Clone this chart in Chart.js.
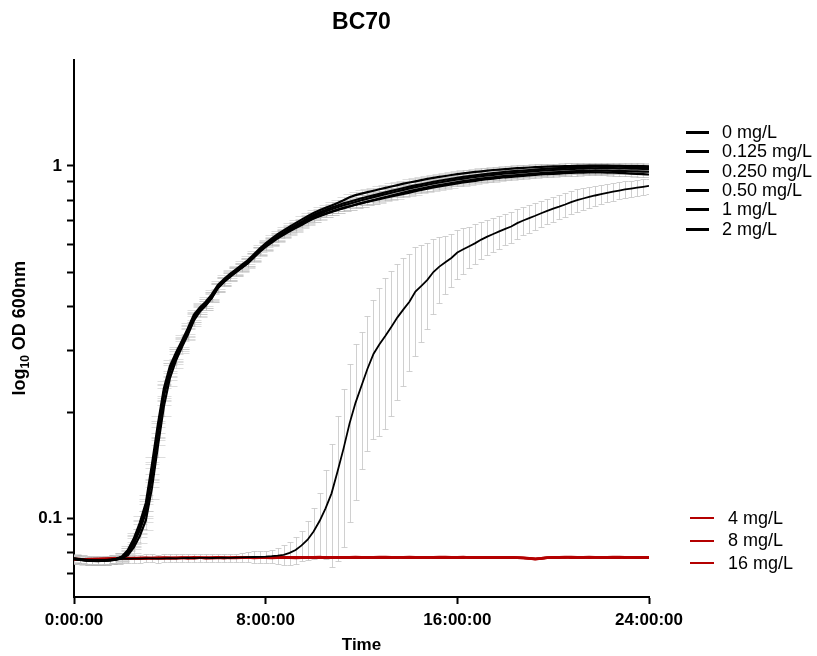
<!DOCTYPE html>
<html>
<head>
<meta charset="utf-8">
<script src="https://cdn.jsdelivr.net/npm/chart.js@4.4.1/dist/chart.umd.min.js"></script>
<style>
  html, body { margin: 0; padding: 0; background: #fff; }
  #wrap { position: relative; width: 817px; height: 656px; }
  #c { position: absolute; left: 0; top: 0; }
  .leg { position: absolute; font-family: 'Liberation Sans', Arial, sans-serif; font-size: 18px; color: #000; }
  .leg .row { display: flex; align-items: center; white-space: nowrap; }
  .leg .sw { flex: none; }
</style>
</head>
<body>
<div id="wrap">
  <canvas id="c" width="817" height="656"></canvas>
  <div class="leg" id="legTop" style="left:686px; top:123px;"></div>
  <div class="leg" id="legBot" style="left:690px; top:507px;"></div>
</div>
<script>
// BC70 growth curves, log OD600 vs time, mean ± SD. Reads every 15 min.

const hours = [
  0, 0.25, 0.5, 0.75, 1, 1.25, 1.5, 1.75,
  2, 2.25, 2.5, 2.75, 3, 3.25, 3.5, 3.75,
  4, 4.25, 4.5, 4.75, 5, 5.25, 5.5, 5.75,
  6, 6.25, 6.5, 6.75, 7, 7.25, 7.5, 7.75,
  8, 8.25, 8.5, 8.75, 9, 9.25, 9.5, 9.75,
  10, 10.25, 10.5, 10.75, 11, 11.25, 11.5, 11.75,
  12, 12.25, 12.5, 12.75, 13, 13.25, 13.5, 13.75,
  14, 14.25, 14.5, 14.75, 15, 15.25, 15.5, 15.75,
  16, 16.25, 16.5, 16.75, 17, 17.25, 17.5, 17.75,
  18, 18.25, 18.5, 18.75, 19, 19.25, 19.5, 19.75,
  20, 20.25, 20.5, 20.75, 21, 21.25, 21.5, 21.75,
  22, 22.25, 22.5, 22.75, 23, 23.25, 23.5, 23.75,
  24];

const od0 = [
  0.0772, 0.0768, 0.0764, 0.0762, 0.0761, 0.0762, 0.0764, 0.0768,
  0.0777, 0.0805, 0.0862, 0.0945, 0.1065, 0.1350, 0.1770, 0.2270,
  0.2640, 0.2900, 0.3140, 0.3400, 0.3720, 0.3920, 0.4070, 0.4270,
  0.4540, 0.4720, 0.4880, 0.5030, 0.5180, 0.5330, 0.5540, 0.5760,
  0.5960, 0.6140, 0.6320, 0.6480, 0.6630, 0.6790, 0.6940, 0.7110,
  0.7260, 0.7390, 0.7500, 0.7620, 0.7720, 0.7830, 0.7910, 0.8000,
  0.8090, 0.8170, 0.8250, 0.8330, 0.8410, 0.8490, 0.8570, 0.8650,
  0.8730, 0.8800, 0.8870, 0.8940, 0.9010, 0.9070, 0.9130, 0.9190,
  0.9250, 0.9300, 0.9350, 0.9400, 0.9450, 0.9490, 0.9530, 0.9570,
  0.9610, 0.9640, 0.9670, 0.9700, 0.9730, 0.9760, 0.9790, 0.9810,
  0.9830, 0.9850, 0.9870, 0.9890, 0.9910, 0.9920, 0.9930, 0.9940,
  0.9950, 0.9950, 0.9950, 0.9940, 0.9930, 0.9920, 0.9910, 0.9900,
  0.9890];

const od0125 = [
  0.0768, 0.0764, 0.0761, 0.0759, 0.0758, 0.0760, 0.0763, 0.0769,
  0.0782, 0.0815, 0.0880, 0.0975, 0.1110, 0.1420, 0.1850, 0.2340,
  0.2700, 0.2950, 0.3190, 0.3460, 0.3780, 0.3970, 0.4120, 0.4320,
  0.4590, 0.4770, 0.4930, 0.5080, 0.5240, 0.5400, 0.5610, 0.5830,
  0.6030, 0.6220, 0.6400, 0.6560, 0.6720, 0.6880, 0.7040, 0.7200,
  0.7350, 0.7480, 0.7600, 0.7720, 0.7850, 0.7990, 0.8150, 0.8260,
  0.8340, 0.8420, 0.8500, 0.8580, 0.8660, 0.8740, 0.8820, 0.8900,
  0.8970, 0.9040, 0.9110, 0.9180, 0.9240, 0.9300, 0.9360, 0.9420,
  0.9470, 0.9520, 0.9570, 0.9610, 0.9650, 0.9690, 0.9730, 0.9760,
  0.9790, 0.9820, 0.9850, 0.9870, 0.9890, 0.9910, 0.9930, 0.9950,
  0.9960, 0.9970, 0.9980, 0.9990, 1.0000, 1.0000, 1.0010, 1.0010,
  1.0010, 1.0010, 1.0000, 1.0000, 0.9990, 0.9990, 0.9980, 0.9980,
  0.9970];

const od025 = [
  0.0770, 0.0765, 0.0762, 0.0760, 0.0759, 0.0760, 0.0762, 0.0766,
  0.0774, 0.0798, 0.0850, 0.0928, 0.1040, 0.1310, 0.1720, 0.2220,
  0.2600, 0.2860, 0.3100, 0.3360, 0.3680, 0.3880, 0.4030, 0.4230,
  0.4500, 0.4680, 0.4840, 0.4990, 0.5140, 0.5290, 0.5490, 0.5700,
  0.5890, 0.6060, 0.6230, 0.6380, 0.6520, 0.6660, 0.6800, 0.6950,
  0.7090, 0.7200, 0.7300, 0.7400, 0.7500, 0.7590, 0.7670, 0.7760,
  0.7840, 0.7920, 0.8000, 0.8080, 0.8160, 0.8240, 0.8320, 0.8400,
  0.8480, 0.8550, 0.8620, 0.8690, 0.8760, 0.8820, 0.8880, 0.8940,
  0.9000, 0.9050, 0.9100, 0.9150, 0.9200, 0.9240, 0.9280, 0.9320,
  0.9360, 0.9390, 0.9420, 0.9450, 0.9480, 0.9510, 0.9540, 0.9560,
  0.9580, 0.9600, 0.9620, 0.9640, 0.9660, 0.9670, 0.9680, 0.9690,
  0.9690, 0.9690, 0.9680, 0.9670, 0.9660, 0.9650, 0.9640, 0.9630,
  0.9620];

const od05 = [
  0.0771, 0.0767, 0.0764, 0.0762, 0.0761, 0.0761, 0.0762, 0.0765,
  0.0771, 0.0788, 0.0830, 0.0895, 0.0990, 0.1220, 0.1600, 0.2080,
  0.2500, 0.2800, 0.3060, 0.3320, 0.3640, 0.3860, 0.4020, 0.4220,
  0.4500, 0.4690, 0.4850, 0.5000, 0.5150, 0.5300, 0.5510, 0.5730,
  0.5930, 0.6110, 0.6290, 0.6440, 0.6590, 0.6740, 0.6890, 0.7050,
  0.7190, 0.7310, 0.7420, 0.7530, 0.7630, 0.7730, 0.7810, 0.7900,
  0.7990, 0.8070, 0.8150, 0.8230, 0.8310, 0.8390, 0.8470, 0.8550,
  0.8630, 0.8700, 0.8770, 0.8840, 0.8910, 0.8970, 0.9030, 0.9090,
  0.9150, 0.9200, 0.9250, 0.9300, 0.9350, 0.9390, 0.9430, 0.9470,
  0.9510, 0.9540, 0.9570, 0.9600, 0.9630, 0.9660, 0.9690, 0.9710,
  0.9730, 0.9750, 0.9770, 0.9790, 0.9810, 0.9820, 0.9830, 0.9840,
  0.9850, 0.9850, 0.9850, 0.9840, 0.9830, 0.9820, 0.9810, 0.9800,
  0.9790];

const od1 = [
  0.0769, 0.0765, 0.0762, 0.0760, 0.0759, 0.0761, 0.0764, 0.0769,
  0.0779, 0.0808, 0.0868, 0.0952, 0.1075, 0.1365, 0.1790, 0.2290,
  0.2650, 0.2910, 0.3150, 0.3410, 0.3730, 0.3930, 0.4080, 0.4280,
  0.4550, 0.4730, 0.4890, 0.5040, 0.5190, 0.5330, 0.5530, 0.5740,
  0.5930, 0.6100, 0.6270, 0.6420, 0.6560, 0.6700, 0.6840, 0.6980,
  0.7110, 0.7220, 0.7320, 0.7420, 0.7510, 0.7600, 0.7680, 0.7760,
  0.7840, 0.7910, 0.7980, 0.8050, 0.8120, 0.8190, 0.8260, 0.8330,
  0.8400, 0.8470, 0.8540, 0.8610, 0.8680, 0.8740, 0.8800, 0.8860,
  0.8920, 0.8970, 0.9020, 0.9070, 0.9120, 0.9160, 0.9200, 0.9240,
  0.9280, 0.9310, 0.9340, 0.9370, 0.9400, 0.9430, 0.9450, 0.9470,
  0.9490, 0.9510, 0.9530, 0.9550, 0.9560, 0.9570, 0.9580, 0.9580,
  0.9580, 0.9570, 0.9560, 0.9550, 0.9530, 0.9510, 0.9490, 0.9470,
  0.9450];

const od2 = [
  0.0770, 0.0766, 0.0763, 0.0762, 0.0763, 0.0764, 0.0766, 0.0768,
  0.0769, 0.0770, 0.0771, 0.0771, 0.0772, 0.0772, 0.0771, 0.0772,
  0.0773, 0.0772, 0.0773, 0.0774, 0.0773, 0.0774, 0.0775, 0.0774,
  0.0775, 0.0776, 0.0775, 0.0776, 0.0777, 0.0778, 0.0779, 0.0780,
  0.0781, 0.0783, 0.0786, 0.0790, 0.0800, 0.0815, 0.0840, 0.0872,
  0.0920, 0.0985, 0.1070, 0.1180, 0.1360, 0.1580, 0.1860, 0.2130,
  0.2380, 0.2660, 0.2930, 0.3120, 0.3300, 0.3500, 0.3720, 0.3920,
  0.4120, 0.4400, 0.4570, 0.4750, 0.5000, 0.5180, 0.5330, 0.5480,
  0.5680, 0.5800, 0.5920, 0.6040, 0.6180, 0.6300, 0.6410, 0.6520,
  0.6630, 0.6730, 0.6880, 0.7000, 0.7110, 0.7220, 0.7340, 0.7450,
  0.7560, 0.7660, 0.7770, 0.7890, 0.7990, 0.8080, 0.8160, 0.8240,
  0.8310, 0.8380, 0.8450, 0.8510, 0.8570, 0.8620, 0.8670, 0.8720,
  0.8770];

const od4 = [
  0.0768, 0.0766, 0.0765, 0.0766, 0.0767, 0.0768, 0.0769, 0.0770,
  0.0771, 0.0772, 0.0771, 0.0773, 0.0772, 0.0774, 0.0773, 0.0772,
  0.0774, 0.0773, 0.0775, 0.0772, 0.0774, 0.0776, 0.0773, 0.0774,
  0.0775, 0.0773, 0.0776, 0.0774, 0.0775, 0.0777, 0.0774, 0.0775,
  0.0776, 0.0774, 0.0775, 0.0777, 0.0776, 0.0774, 0.0776, 0.0775,
  0.0777, 0.0775, 0.0776, 0.0778, 0.0775, 0.0776, 0.0777, 0.0775,
  0.0776, 0.0778, 0.0776, 0.0775, 0.0777, 0.0776, 0.0778, 0.0776,
  0.0775, 0.0777, 0.0776, 0.0778, 0.0776, 0.0777, 0.0775, 0.0776,
  0.0777, 0.0776, 0.0778, 0.0776, 0.0775, 0.0777, 0.0776, 0.0777,
  0.0776, 0.0777, 0.0776, 0.0775, 0.0773, 0.0770, 0.0772, 0.0775,
  0.0777, 0.0776, 0.0778, 0.0776, 0.0777, 0.0775, 0.0777, 0.0778,
  0.0776, 0.0777, 0.0775, 0.0776, 0.0778, 0.0777, 0.0776, 0.0777,
  0.0776];

const od8 = [
  0.0767, 0.0765, 0.0766, 0.0767, 0.0768, 0.0769, 0.0770, 0.0771,
  0.0772, 0.0771, 0.0773, 0.0772, 0.0774, 0.0773, 0.0775, 0.0774,
  0.0773, 0.0775, 0.0774, 0.0776, 0.0773, 0.0775, 0.0776, 0.0774,
  0.0776, 0.0775, 0.0774, 0.0776, 0.0778, 0.0775, 0.0776, 0.0777,
  0.0775, 0.0777, 0.0776, 0.0775, 0.0778, 0.0777, 0.0775, 0.0777,
  0.0776, 0.0778, 0.0777, 0.0775, 0.0777, 0.0778, 0.0776, 0.0777,
  0.0778, 0.0776, 0.0777, 0.0779, 0.0777, 0.0776, 0.0778, 0.0777,
  0.0776, 0.0778, 0.0777, 0.0776, 0.0778, 0.0777, 0.0779, 0.0777,
  0.0776, 0.0778, 0.0777, 0.0776, 0.0778, 0.0776, 0.0777, 0.0778,
  0.0777, 0.0776, 0.0775, 0.0774, 0.0772, 0.0769, 0.0771, 0.0775,
  0.0776, 0.0778, 0.0777, 0.0779, 0.0777, 0.0778, 0.0776, 0.0777,
  0.0778, 0.0776, 0.0777, 0.0779, 0.0777, 0.0778, 0.0777, 0.0776,
  0.0777];

const od16 = [
  0.0770, 0.0768, 0.0767, 0.0768, 0.0769, 0.0770, 0.0771, 0.0772,
  0.0773, 0.0774, 0.0772, 0.0774, 0.0775, 0.0773, 0.0774, 0.0776,
  0.0775, 0.0774, 0.0776, 0.0775, 0.0777, 0.0775, 0.0774, 0.0776,
  0.0777, 0.0776, 0.0775, 0.0777, 0.0776, 0.0778, 0.0777, 0.0776,
  0.0778, 0.0776, 0.0777, 0.0776, 0.0778, 0.0777, 0.0778, 0.0776,
  0.0777, 0.0779, 0.0776, 0.0778, 0.0777, 0.0776, 0.0778, 0.0779,
  0.0777, 0.0778, 0.0776, 0.0778, 0.0779, 0.0777, 0.0776, 0.0778,
  0.0779, 0.0777, 0.0778, 0.0776, 0.0778, 0.0779, 0.0777, 0.0778,
  0.0777, 0.0779, 0.0776, 0.0778, 0.0777, 0.0778, 0.0777, 0.0778,
  0.0778, 0.0777, 0.0776, 0.0774, 0.0771, 0.0768, 0.0772, 0.0776,
  0.0778, 0.0777, 0.0779, 0.0777, 0.0776, 0.0778, 0.0779, 0.0777,
  0.0778, 0.0777, 0.0779, 0.0778, 0.0776, 0.0778, 0.0777, 0.0778,
  0.0778];

// SD: the five fast-growing wells share a similar spread; 2 mg/L has its own (much wider)
const sdFast = [
  0.002, 0.002, 0.002, 0.002, 0.002, 0.002, 0.002, 0.002,
  0.002, 0.002, 0.003, 0.004, 0.006, 0.008, 0.010, 0.012,
  0.012, 0.012, 0.012, 0.012, 0.012, 0.012, 0.012, 0.012,
  0.012, 0.012, 0.013, 0.013, 0.013, 0.014, 0.014, 0.014,
  0.015, 0.015, 0.015, 0.015, 0.015, 0.015, 0.015, 0.015,
  0.016, 0.016, 0.016, 0.016, 0.016, 0.016, 0.016, 0.016,
  0.018, 0.018, 0.018, 0.018, 0.018, 0.018, 0.018, 0.018,
  0.018, 0.018, 0.018, 0.018, 0.018, 0.018, 0.018, 0.018,
  0.018, 0.018, 0.018, 0.018, 0.018, 0.018, 0.018, 0.018,
  0.018, 0.018, 0.018, 0.018, 0.018, 0.018, 0.018, 0.018,
  0.018, 0.018, 0.018, 0.018, 0.018, 0.018, 0.018, 0.018,
  0.018, 0.018, 0.018, 0.018, 0.018, 0.018, 0.018, 0.018,
  0.018];

const sd2 = [
  0.002, 0.002, 0.002, 0.002, 0.002, 0.002, 0.002, 0.002,
  0.002, 0.002, 0.002, 0.002, 0.002, 0.002, 0.002, 0.002,
  0.002, 0.002, 0.002, 0.002, 0.002, 0.002, 0.002, 0.002,
  0.002, 0.002, 0.002, 0.002, 0.0025, 0.0025, 0.003, 0.003,
  0.003, 0.0035, 0.004, 0.005, 0.006, 0.007, 0.008, 0.011,
  0.015, 0.020, 0.030, 0.045, 0.060, 0.075, 0.088, 0.100,
  0.100, 0.110, 0.125, 0.140, 0.150, 0.155, 0.155, 0.155,
  0.150, 0.150, 0.140, 0.130, 0.120, 0.110, 0.100, 0.095,
  0.090, 0.085, 0.080, 0.078, 0.075, 0.072, 0.070, 0.070,
  0.068, 0.067, 0.066, 0.065, 0.065, 0.064, 0.063, 0.062,
  0.062, 0.061, 0.060, 0.060, 0.058, 0.056, 0.055, 0.054,
  0.052, 0.050, 0.049, 0.048, 0.047, 0.046, 0.045, 0.044,
  0.043];

const seriesLabels = ['0 mg/L', '0.125 mg/L', '0.250 mg/L', '0.50 mg/L', '1 mg/L', '2 mg/L', '4 mg/L', '8 mg/L', '16 mg/L'];
const seriesValues = [od0, od0125, od025, od05, od1, od2, od4, od8, od16];
const seriesSd = [sdFast, sdFast, sdFast, sdFast, sdFast, sd2, null, null, null];
const seriesColors = ['#000', '#000', '#000', '#000', '#000', '#000', '#b40000', '#b40000', '#b40000'];

const xTicks = [0, 8, 16, 24];
const yTicks = [0.07, 0.08, 0.09, 0.1, 0.2, 0.3, 0.4, 0.5, 0.6, 0.7, 0.8, 0.9, 1];
const yLabelled = new Set([0.1, 1]);

const FONT = "'Liberation Sans', Arial, sans-serif";

// grey mean ± SD bars, drawn under the lines
const errorBars = {
  id: 'errorBars',
  beforeDatasetsDraw(chart) {
    const { ctx, chartArea: a, scales: { x, y } } = chart;
    ctx.save();
    ctx.beginPath();
    ctx.rect(a.left, a.top, a.right - a.left, a.bottom - a.top);
    ctx.clip();
    chart.data.datasets.forEach((ds) => {
      if (!ds.sd) return;
      ctx.strokeStyle = ds.errColor;
      ctx.lineWidth = 1;
      const cap = ds.capWidth / 2;
      ds.data.forEach((p, i) => {
        const s = ds.sd[i];
        const px = Math.round(x.getPixelForValue(p.x)) + 0.5;
        const yt = Math.round(y.getPixelForValue(p.y + s)) + 0.5;
        const yb = Math.round(y.getPixelForValue(Math.max(p.y - s, 0.05))) + 0.5;
        ctx.beginPath();
        ctx.moveTo(px, yt); ctx.lineTo(px, yb);
        ctx.moveTo(px - cap, yt); ctx.lineTo(px + cap, yt);
        ctx.moveTo(px - cap, yb); ctx.lineTo(px + cap, yb);
        ctx.stroke();
      });
    });
    ctx.restore();
  },
};

// y title with a subscript 10, which the built-in axis title can't do
const yTitle = {
  id: 'yTitle',
  afterDraw(chart) {
    const { ctx, chartArea: a } = chart;
    const big = `bold 18px ${FONT}`, small = `bold 12px ${FONT}`;
    ctx.save();
    ctx.font = big;
    const w1 = ctx.measureText('log').width, w3 = ctx.measureText(' OD 600nm').width;
    ctx.font = small;
    const w2 = ctx.measureText('10').width;
    const total = w1 + w2 + w3;
    ctx.translate(25, (a.top + a.bottom) / 2);
    ctx.rotate(-Math.PI / 2);
    ctx.fillStyle = '#000';
    ctx.textBaseline = 'alphabetic';
    ctx.textAlign = 'left';
    let cx = -total / 2;
    ctx.font = big; ctx.fillText('log', cx, 0); cx += w1;
    ctx.font = small; ctx.fillText('10', cx, 4); cx += w2;
    ctx.font = big; ctx.fillText(' OD 600nm', cx, 0);
    ctx.restore();
  },
};

const datasets = seriesValues.map((vals, k) => ({
  label: seriesLabels[k],
  data: hours.map((h, i) => ({ x: h, y: vals[i] })),
  borderColor: seriesColors[k],
  backgroundColor: seriesColors[k],
  borderWidth: k < 5 ? 2.2 : k === 5 ? 1.8 : 2.6,
  sd: seriesSd[k],
  errColor: k === 5 ? 'rgba(200,200,200,0.85)' : 'rgba(180,180,180,0.45)',
  capWidth: k === 5 ? 6 : 14,
  order: k < 6 ? 0 : 1,
}));

new Chart(document.getElementById('c'), {
  type: 'line',
  data: { datasets },
  plugins: [errorBars, yTitle],
  options: {
    responsive: false, animation: false, events: [],
    layout: { padding: { top: 0, right: 168, bottom: 0, left: 0 } },
    elements: { point: { radius: 0 }, line: { tension: 0 } },
    plugins: {
      legend: { display: false },
      tooltip: { enabled: false },
      title: {
        display: true, text: 'BC70', fullSize: false, color: '#000',
        font: { family: FONT, size: 23, weight: 'bold' },
        padding: { top: 9, bottom: 23 },
      },
    },
    scales: {
      x: {
        type: 'linear', min: 0, max: 24,
        afterBuildTicks: (s) => { s.ticks = xTicks.map((v) => ({ value: v })); },
        ticks: { callback: (v) => `${v}:00:00`, color: '#000', font: { family: FONT, size: 17, weight: 'bold' }, padding: 6, maxRotation: 0 },
        grid: { drawOnChartArea: false, tickLength: 7, tickWidth: 2, tickColor: '#000' },
        border: { color: '#000', width: 2 },
        title: { display: true, text: 'Time', color: '#000', font: { family: FONT, size: 17, weight: 'bold' }, padding: { top: 0, bottom: 0 } },
        afterFit: (s) => { s.height = 59; s.paddingLeft = 0; s.paddingRight = 0; },
      },
      y: {
        type: 'logarithmic', min: 0.06, max: 2,
        afterBuildTicks: (s) => { s.ticks = yTicks.map((v) => ({ value: v })); },
        ticks: { callback: (v) => (yLabelled.has(v) ? String(v) : ''), autoSkip: false, color: '#000', font: { family: FONT, size: 17, weight: 'bold' }, padding: 5 },
        grid: { drawOnChartArea: false, tickLength: 7, tickWidth: 2, tickColor: '#000' },
        border: { color: '#000', width: 2 },
        afterFit: (s) => { s.width = 74; s.paddingTop = 0; s.paddingBottom = 0; },
      },
    },
  },
});

// legend, split in two groups as in the original figure
function buildLegend(el, from, to, rowH, swW, swH, gap) {
  for (let k = from; k < to; k++) {
    const row = document.createElement('div');
    row.className = 'row';
    row.style.height = rowH + 'px';
    const sw = document.createElement('span');
    sw.className = 'sw';
    sw.style.cssText = `width:${swW}px;height:${swH}px;background:${seriesColors[k]};margin-right:${gap}px`;
    const tx = document.createElement('span');
    tx.textContent = seriesLabels[k];
    row.append(sw, tx);
    el.appendChild(row);
  }
}
buildLegend(document.getElementById('legTop'), 0, 6, 19.3, 23, 3, 13);
buildLegend(document.getElementById('legBot'), 6, 9, 22.5, 24, 2, 14);
</script>
</body>
</html>
